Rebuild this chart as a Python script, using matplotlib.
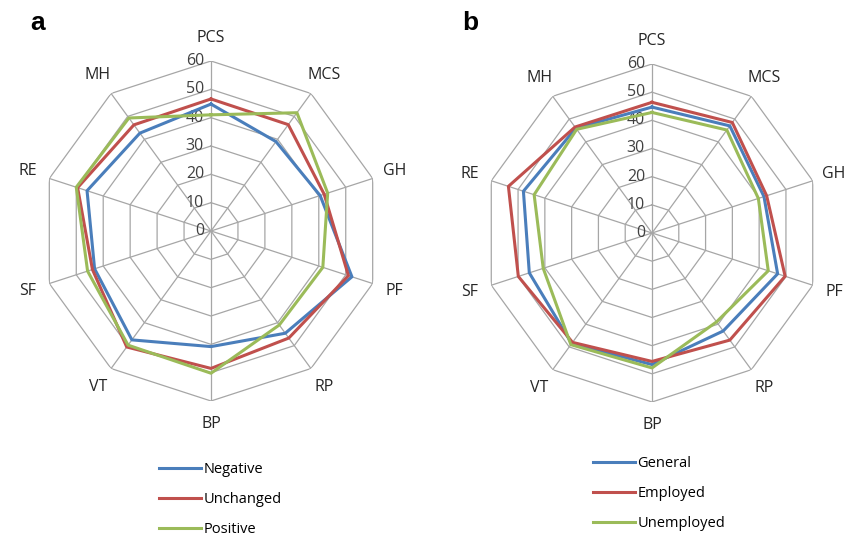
import numpy as np
import matplotlib
matplotlib.use("Agg")
import matplotlib.pyplot as plt

plt.rcParams['font.family'] = ['Open Sans', 'DejaVu Sans']

categories = ["PCS", "MCS", "GH", "PF", "RP", "BP", "VT", "SF", "RE", "MH"]
ring_values = [0, 10, 20, 30, 40, 50, 60]

# panel a
negative = [44.8, 39, 40.5, 52.3, 44.6, 40.8, 47.5, 43.2, 46, 42.7]
unchanged = [46.6, 46.4, 42, 51, 46.7, 48.5, 50.6, 44, 49.5, 46.3]
positive = [41, 51.6, 43.3, 41.5, 41, 50.2, 49.8, 45.8, 50, 49.3]

# panel b
general = [44.7, 47, 41.8, 46.9, 43, 46.7, 48.5, 45.8, 48, 46]
employed = [46.4, 48.5, 42.8, 49.7, 47, 45.6, 48, 49.9, 53.6, 46.5]
unemployed = [42.8, 45.2, 39.7, 43.4, 39, 47.9, 49, 40.6, 44, 45.5]

blue = "#4a7ebb"
red = "#c0504d"
green = "#9bbb59"
grid_c = "#a6a6a6"

angles = np.linspace(0, 2 * np.pi, len(categories), endpoint=False)
closed = np.append(angles, angles[0])


def radar(ax, series, labels, colors):
    ax.set_theta_zero_location("N")
    ax.set_theta_direction(-1)
    ax.set_ylim(0, 60)
    ax.grid(False)
    ax.spines['polar'].set_visible(False)
    ax.set_xticks([])
    ax.set_yticks([])
    for r in ring_values[1:]:
        ax.plot(closed, [r] * len(closed), color=grid_c, lw=0.9, zorder=1)
    for a in angles:
        ax.plot([a, a], [0, 60], color=grid_c, lw=0.9, zorder=1)
    for r in ring_values:
        ax.annotate(str(r), (0, r), xytext=(-5, 0), textcoords="offset points",
                    ha="right", va="center", fontsize=11.5, color="#404040")
    for a, c in zip(angles, categories):
        ax.text(a, 68, c, ha="center", va="center", fontsize=11.5, color="#262626")
    lines = []
    for vals, lab, col in zip(series, labels, colors):
        v = np.append(vals, vals[0])
        ln, = ax.plot(closed, v, color=col, lw=2.2, label=lab, zorder=3)
        lines.append(ln)
    return lines


fig = plt.figure(figsize=(8.54, 5.39), dpi=100)
ax1 = fig.add_axes([41 / 854, 138 / 539, 340 / 854, 340 / 539], projection="polar")
ax2 = fig.add_axes([483 / 854, 137 / 539, 338 / 854, 338 / 539], projection="polar")
for ax in (ax1, ax2):
    ax.patch.set_alpha(0)

l1 = radar(ax1, [negative, unchanged, positive], ["Negative", "Unchanged", "Positive"],
           [blue, red, green])
l2 = radar(ax2, [general, employed, unemployed], ["General", "Employed", "Unemployed"],
           [blue, red, green])

fig.legend(handles=l1, loc="upper left", bbox_to_anchor=(153 / 854, 1 - 456 / 539),
           frameon=False, fontsize=10.5, handlelength=2.9, handletextpad=0.15,
           labelspacing=1.05, borderaxespad=0)
fig.legend(handles=l2, loc="upper left", bbox_to_anchor=(587 / 854, 1 - 450 / 539),
           frameon=False, fontsize=10.5, handlelength=2.9, handletextpad=0.15,
           labelspacing=1.05, borderaxespad=0)

fig.text(30 / 854, 1 - 23 / 539, "a", fontsize=19, fontweight="bold", va="center",
         family=["Liberation Sans", "DejaVu Sans"])
fig.text(462 / 854, 1 - 23 / 539, "b", fontsize=19, fontweight="bold", va="center",
         family=["Liberation Sans", "DejaVu Sans"])

fig.savefig("out.png", dpi=100)
